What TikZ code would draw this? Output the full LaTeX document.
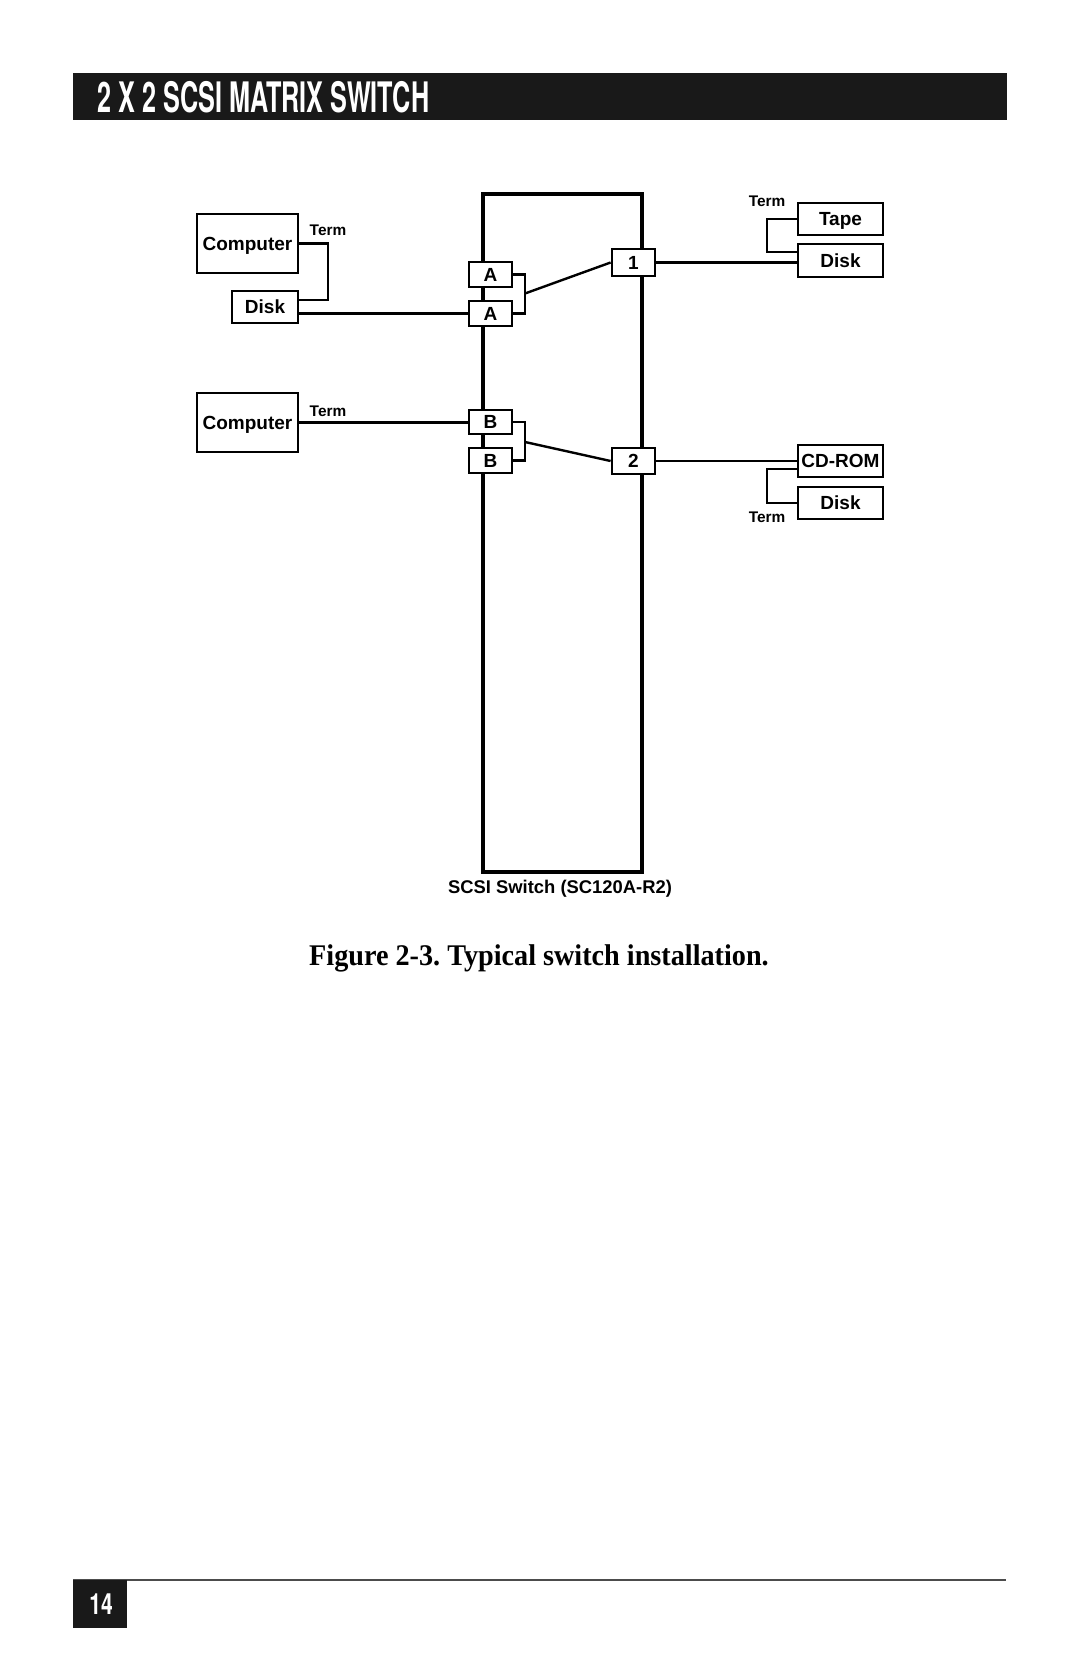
\documentclass[tikz,border=0pt]{standalone}
\usepackage{fontspec}
\setmainfont{Liberation Serif}
\setsansfont{Liberation Sans}
\newfontfamily\headfont{TeX Gyre Heros}
\usepackage{tikz}
\usetikzlibrary{positioning,calc}

\begin{document}
\begin{tikzpicture}[x=0.5pt, y=-0.5pt,
  every node/.style={font=\sffamily\bfseries\fontsize{9.5}{11}\selectfont, align=center, inner sep=0pt},
  boxed/.style={draw, line width=1.4pt, fill=white, text height=6.8pt, text depth=0pt},
  unit/.style={boxed, minimum width=50.5pt, minimum height=29.5pt},
  drive/.style={boxed, minimum width=42.5pt, minimum height=16pt},
  port/.style={boxed, minimum width=21.5pt, minimum height=12.5pt},
  wire/.style={draw, line width=1.2pt},
  termlbl/.style={font=\sffamily\bfseries\fontsize{7.7}{9}\selectfont, text height=5.5pt, text depth=0pt}]
  \useasboundingbox (0,0) rectangle (1080,1669);
  % page header and footer
  \fill[black!90] (73,73) rectangle (1007,120);
  \node[anchor=base west, text=white, font=\headfont\bfseries\fontsize{21}{24}\selectfont] (title) at (97,113)
    {\scalebox{0.6}[1]{2 X 2 SCSI MATRIX SWITCH}};
  \draw[black!70, line width=1pt] (73,1580) -- (1006,1580);
  \fill[black!90] (73,1580) rectangle (127,1628);
  \node[text=white, font=\headfont\bfseries\fontsize{14.6}{16}\selectfont] (pagenum) at (101,1604)
    {\scalebox{0.72}[1]{14}};

  % switch body
  \draw[line width=1.8pt] (483,194) rectangle (642,872);
  \node (swlbl) at (560,889) {\fontsize{9.2}{11}\selectfont SCSI Switch (SC120A-R2)};

  % bus A side
  \node[unit] (comp1) at (247.5,243.5) {Computer};
  \node[drive, minimum width=33pt] (disk1) at (265,307) {Disk};
  \node[port] (portA1) at (490.5,274.5) {A};
  \node[port] (portA2) at (490.5,313.5) {A};
  \node[port, minimum height=13.5pt] (port1) at (633.5,262.5) {1};
  \node[drive] (tape) at (840.5,219) {Tape};
  \node[drive, minimum height=16.5pt] (disk2) at (840.5,260.5) {Disk};

  % bus B side
  \node[unit] (comp2) at (247.5,422.5) {Computer};
  \node[port, minimum height=12pt] (portB1) at (490.5,422) {B};
  \node[port] (portB2) at (490.5,460.5) {B};
  \node[port, minimum height=13pt] (port2) at (633.5,461) {2};
  \node[drive] (cdrom) at (840.5,461) {CD-ROM};
  \node[drive] (disk3) at (840.5,503) {Disk};

  % joints of the cables
  \coordinate (t1) at (328,300);
  \coordinate (t2) at (767,252);
  \coordinate (t4) at (767,469);
  \coordinate (jA) at (525,293.5);
  \coordinate (jB) at (525,442);

  % cables
  \draw[wire] (comp1.east) -| (t1) -- (t1 -| disk1.east);
  \draw[wire] (disk1.east |- portA2.west) -- (portA2.west);
  \draw[wire] (portA1.east) -| (jA) |- (portA2.east);
  \draw[wire] (jA) -- (port1.west);
  \draw[wire] (port1.east) -- (port1.east -| disk2.west);
  \draw[wire] (tape.west) -| (t2) -- (t2 -| disk2.west);
  \draw[wire] (comp2.east) -- (comp2.east -| portB1.west);
  \draw[wire] (portB1.east) -| (jB) |- (portB2.east);
  \draw[wire] (jB) -- (port2.west);
  \draw[wire] (port2.east) -- (port2.east -| cdrom.west);
  \draw[wire] (t4 -| cdrom.west) -- (t4) |- (disk3.west);

  % terminator labels
  \node[termlbl] (term1) at (328,230) {Term};
  \node[termlbl] (term2) at (767,201) {Term};
  \node[termlbl] (term3) at (328,411) {Term};
  \node[termlbl] (term4) at (767,517) {Term};

  % caption
  \node[font=\rmfamily\bfseries\fontsize{15}{18}\selectfont] (caption) at (539,958)
    {\frenchspacing\scalebox{0.94}[1]{Figure 2-3. Typical switch installation.}};
\end{tikzpicture}
\end{document}
